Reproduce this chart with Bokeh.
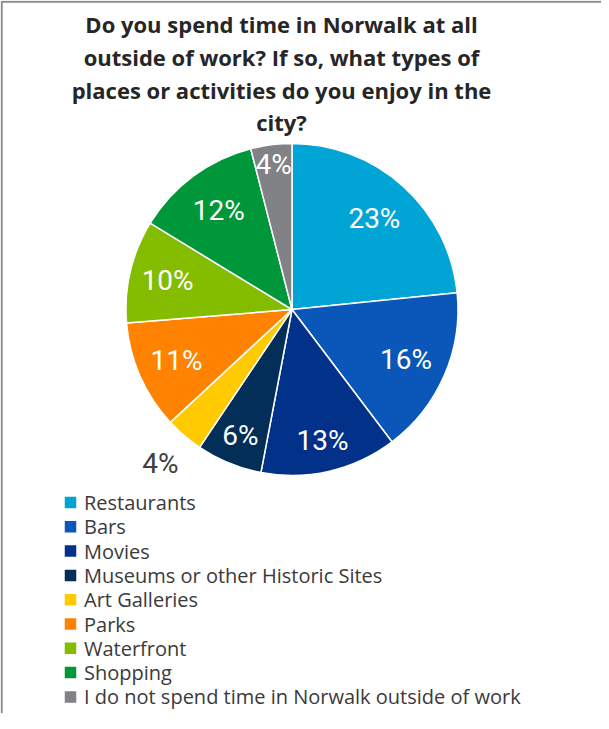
import math
from bokeh.plotting import figure
from bokeh.models import Range1d, ColumnDataSource
from bokeh.core.properties import value
from bokeh.embed import file_html
from bokeh.resources import INLINE

# ---- data ----
categories = [
    "Restaurants",
    "Bars",
    "Movies",
    "Museums or other Historic Sites",
    "Art Galleries",
    "Parks",
    "Waterfront",
    "Shopping",
    "I do not spend time in Norwalk outside of work",
]
shares = [23.4, 16.3, 13.3, 6.4, 3.7, 10.6, 10.0, 12.3, 4.0]
colors = ["#00A5D6", "#0A57B9", "#02318A", "#032E57", "#FFCA00",
          "#FF8300", "#84BC00", "#00963A", "#818285"]
title_lines = [
    "Do you spend time in Norwalk at all",
    "outside of work? If so, what types of",
    "places or activities do you enjoy in the",
    "city?",
]

# ---- layout (styling, not data) ----
W, H = 601, 713
def px(x):  # page x -> data x
    return x - 8
def py(y):  # page y -> data y
    return (H + 8) - y

cx, cy, R = px(299.5), py(317), 166
label_r = [0.74, 0.75, 0.81, 0.82, 1.22, 0.76, 0.77, 0.74, 0.88]
label_colors = ["white"] * 9
label_colors[4] = "#404040"

p = figure(width=W, height=H, output_backend="svg", toolbar_location=None,
           x_range=Range1d(0, W), y_range=Range1d(0, H),
           min_border=0, outline_line_color=None)
p.axis.visible = False
p.grid.visible = False
p.background_fill_color = "white"
p.border_fill_color = "white"

# chart border (top & left visible)
p.line(x=[1.2, 1.2, W], y=[0, H - 1.2, H - 1.2],
       line_color="#8c8c8c", line_width=2)

# wedges
total = sum(shares)
starts, ends, mids = [], [], []
c = 0.0
for v in shares:
    f0 = c / total
    c += v
    f1 = c / total
    starts.append(math.pi / 2 - f0 * 2 * math.pi)
    ends.append(math.pi / 2 - f1 * 2 * math.pi)
    mids.append(math.pi / 2 - (f0 + f1) / 2 * 2 * math.pi)

src = ColumnDataSource(dict(start=starts, end=ends, color=colors, cat=categories))
p.wedge(x=cx, y=cy, radius=R, start_angle="start", end_angle="end",
        direction="clock", fill_color="color", line_color="white",
        line_width=1.5, source=src)

# percentage labels
lab_text = [f"{round(v / total * 100)}%" for v in shares]
lx = [cx + rf * R * math.cos(a) for rf, a in zip(label_r, mids)]
ly = [cy + rf * R * math.sin(a) for rf, a in zip(label_r, mids)]
p.text(x=lx, y=ly, text=lab_text, text_color=label_colors,
       text_font=value("Roboto"), text_font_size="28px",
       text_align="center", text_baseline="middle")

# title
ty = [py(31), py(64), py(97), py(129)]
p.text(x=[px(289)] * 4, y=ty, text=title_lines, text_color="#262626",
       text_font=value("Open Sans"), text_font_size="22px",
       text_font_style="bold", text_align="center", text_baseline="middle")

# legend
rows = list(range(len(categories)))
ry = [py(510 + 24.3 * i) for i in rows]
p.scatter(x=[px(78)] * len(rows), y=ry, marker="square", size=11.5,
          fill_color=colors, line_color=None)
p.text(x=[px(91.5)] * len(rows), y=ry, text=categories, text_color="#3a3a3a",
       text_font=value("Open Sans"), text_font_size="20px",
       text_align="left", text_baseline="middle")

open("out.html", "w").write(file_html(p, INLINE))
